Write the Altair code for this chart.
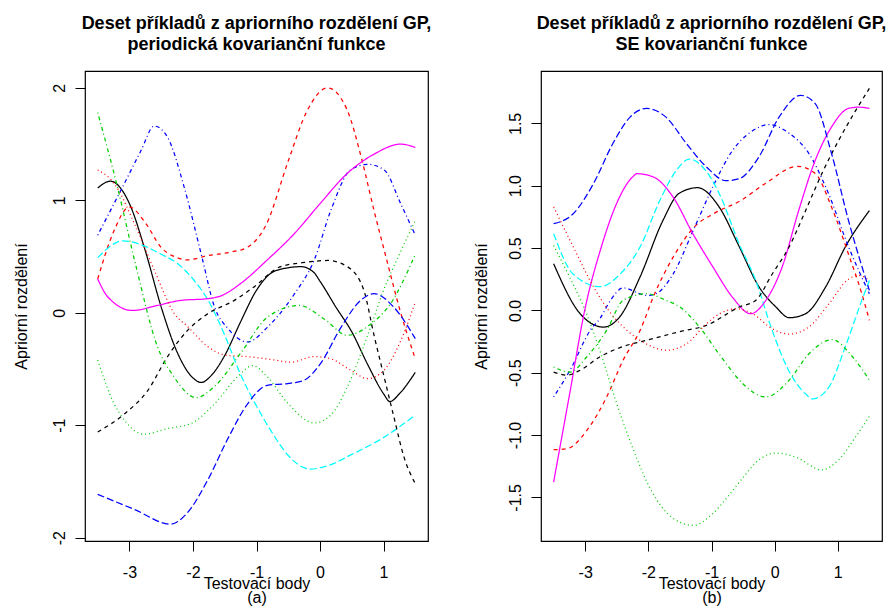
import altair as alt
import pandas as pd

# ---------------- data: left panel (periodic covariance) ----------------
p1_x = [-3.5, -3.3, -3.0, -2.75, -2.5, -2.25, -2.0, -1.87, -1.7, -1.5, -1.25, -1.0, -0.75, -0.5, -0.3, -0.1, 0.0, 0.25, 0.5, 0.75, 1.0, 1.1, 1.25, 1.5]
p1_y = [1.11, 1.17, 0.97, 0.55, 0.05, -0.35, -0.58, -0.62, -0.55, -0.38, -0.08, 0.2, 0.36, 0.40, 0.41, 0.36, 0.28, 0.05, -0.17, -0.46, -0.72, -0.79, -0.72, -0.53]
p2_x = [-3.5, -3.25, -3.0, -2.75, -2.5, -2.25, -2.1, -1.75, -1.4, -1.15, -0.85, -0.5, -0.2, 0.12, 0.43, 0.65, 0.85, 1.05, 1.27, 1.5]
p2_y = [0.3, 0.72, 0.94, 0.8, 0.58, 0.49, 0.47, 0.51, 0.54, 0.58, 0.78, 1.35, 1.8, 2.0, 1.8, 1.38, 0.91, 0.47, 0.0, -0.41]
p3_x = [-3.5, -3.25, -3.08, -2.77, -2.4, -2.03, -1.66, -1.3, -1.06, -0.83, -0.5, -0.09, 0.17, 0.43, 0.75, 1.0, 1.25, 1.5]
p3_y = [-0.42, -0.8, -0.955, -1.08, -1.03, -0.985, -0.81, -0.57, -0.47, -0.57, -0.81, -0.98, -0.91, -0.66, -0.2, 0.2, 0.52, 0.82]
p4_x = [-3.5, -3.08, -2.82, -2.61, -2.4, -2.14, -1.87, -1.66, -1.45, -1.14, -0.83, -0.55, -0.4, -0.09, 0.17, 0.48, 0.75, 1.01, 1.27, 1.5]
p4_y = [0.69, 1.15, 1.44, 1.66, 1.56, 1.12, 0.52, 0.05, -0.14, -0.26, -0.13, 0.05, 0.17, 0.47, 0.91, 1.27, 1.32, 1.27, 0.97, 0.69]
p5_x = [-3.5, -3.1, -2.75, -2.5, -2.25, -2.0, -1.75, -1.5, -1.25, -1.0, -0.75, -0.5, -0.15, 0.15, 0.5, 1.0, 1.5]
p5_y = [0.49, 0.64, 0.59, 0.52, 0.44, 0.3, 0.1, -0.2, -0.55, -0.83, -1.07, -1.27, -1.39, -1.355, -1.26, -1.11, -0.91]
p6_x = [-3.5, -3.34, -2.95, -2.56, -2.19, -1.77, -1.56, -1.25, -0.83, -0.41, 0.0, 0.43, 0.85, 1.27, 1.5]
p6_y = [0.3, 0.14, 0.02, 0.065, 0.11, 0.125, 0.15, 0.26, 0.47, 0.70, 0.97, 1.24, 1.41, 1.50, 1.47]
p7_x = [-3.5, -3.08, -2.71, -2.4, -2.09, -1.77, -1.35, -1.04, -0.62, -0.2, 0.12, 0.43, 0.69, 0.85, 1.0, 1.16, 1.32, 1.5]
p7_y = [-1.06, -0.9, -0.69, -0.39, -0.16, -0.01, 0.11, 0.23, 0.41, 0.45, 0.465, 0.41, 0.2, -0.2, -0.55, -0.92, -1.28, -1.52]
p8_x = [-3.5, -3.24, -2.92, -2.61, -2.29, -2.09, -1.77, -1.46, -1.14, -0.72, -0.46, -0.09, 0.17, 0.48, 0.75, 1.01, 1.27, 1.5]
p8_y = [1.27, 1.15, 0.79, 0.38, -0.01, -0.12, -0.3, -0.38, -0.39, -0.42, -0.44, -0.39, -0.41, -0.51, -0.586, -0.51, -0.25, 0.095]
p9_x = [-3.5, -3.19, -2.9, -2.56, -2.3, -1.95, -1.67, -1.25, -0.83, -0.33, 0.06, 0.43, 0.8, 1.11, 1.5]
p9_y = [1.78, 1.12, 0.42, -0.3, -0.57, -0.755, -0.66, -0.36, -0.04, 0.065, -0.053, -0.2, -0.1, 0.08, 0.52]
p10_x = [-3.5, -2.92, -2.35, -2.09, -1.77, -1.46, -1.14, -0.83, -0.51, -0.25, 0.01, 0.33, 0.64, 0.85, 1.16, 1.5]
p10_y = [-1.615, -1.75, -1.88, -1.78, -1.49, -1.13, -0.81, -0.645, -0.63, -0.6, -0.45, -0.13, 0.11, 0.17, 0.05, -0.23]

# ---------------- data: right panel (SE covariance) ----------------
s1_x = [-3.5, -3.08, -2.71, -2.45, -2.13, -1.77, -1.51, -1.22, -0.88, -0.56, -0.25, 0.02, 0.23, 0.49, 0.81, 1.12, 1.5]
s1_y = [0.374, -0.027, -0.134, -0.05, 0.27, 0.72, 0.94, 0.984, 0.83, 0.51, 0.19, 0.027, -0.059, -0.027, 0.19, 0.51, 0.80]
s2_x = [-3.5, -3.29, -2.97, -2.66, -2.4, -2.13, -1.9, -1.58, -1.27, -0.95, -0.54, -0.14, 0.36, 0.64, 0.9, 1.17, 1.38, 1.5]
s2_y = [-1.118, -1.11, -0.96, -0.695, -0.40, -0.16, 0.134, 0.45, 0.67, 0.78, 0.88, 1.02, 1.155, 1.1, 0.83, 0.45, 0.134, -0.08]
s3_x = [-3.5, -3.25, -3.0, -2.75, -2.5, -2.25, -2.0, -1.75, -1.5, -1.29, -1.0, -0.75, -0.5, -0.25, 0.02, 0.33, 0.75, 1.01, 1.28, 1.5]
s3_y = [0.52, 0.27, 0.0, -0.35, -0.75, -1.1, -1.4, -1.6, -1.70, -1.725, -1.64, -1.5, -1.34, -1.2, -1.144, -1.176, -1.28, -1.2, -1.016, -0.85]
s4_x = [-3.5, -3.24, -2.92, -2.76, -2.6, -2.4, -2.03, -1.88, -1.61, -1.29, -0.98, -0.67, -0.35, -0.09, 0.23, 0.54, 0.85, 1.17, 1.5]
s4_y = [-0.695, -0.48, -0.16, -0.06, 0.08, 0.18, 0.12, 0.134, 0.29, 0.64, 0.99, 1.28, 1.44, 1.49, 1.42, 1.26, 0.94, 0.51, 0.134]
s5_x = [-3.5, -3.19, -2.76, -2.45, -2.13, -1.82, -1.56, -1.35, -1.09, -0.88, -0.56, -0.3, -0.04, 0.22, 0.49, 0.6, 0.86, 1.12, 1.38, 1.5]
s5_y = [0.615, 0.29, 0.19, 0.29, 0.51, 0.88, 1.12, 1.214, 1.12, 0.94, 0.53, 0.24, -0.16, -0.48, -0.67, -0.71, -0.615, -0.29, 0.08, 0.24]
s6_x = [-3.5, -3.25, -3.0, -2.75, -2.5, -2.25, -2.18, -1.92, -1.61, -1.29, -0.98, -0.67, -0.38, -0.14, 0.12, 0.38, 0.64, 0.9, 1.17, 1.33, 1.5]
s6_y = [-1.377, -0.68, 0.02, 0.5, 0.86, 1.07, 1.096, 1.07, 0.91, 0.61, 0.35, 0.107, -0.027, 0.08, 0.35, 0.80, 1.2, 1.47, 1.62, 1.63, 1.62]
s7_x = [-3.5, -3.29, -3.08, -2.76, -2.4, -2.03, -1.5, -1.08, -0.56, -0.3, -0.04, 0.23, 0.49, 0.75, 1.01, 1.28, 1.5]
s7_y = [-0.495, -0.52, -0.48, -0.37, -0.29, -0.24, -0.17, -0.12, 0.027, 0.08, 0.29, 0.51, 0.8, 1.1, 1.36, 1.6, 1.78]
s8_x = [-3.5, -3.19, -2.87, -2.6, -2.34, -2.03, -1.72, -1.4, -1.08, -0.87, -0.61, -0.35, -0.04, 0.23, 0.54, 0.86, 1.17, 1.33, 1.5]
s8_y = [0.83, 0.51, 0.19, -0.02, -0.16, -0.27, -0.32, -0.27, -0.107, -0.027, 0.013, -0.027, -0.147, -0.19, -0.134, 0.053, 0.25, 0.28, 0.24]
s9_x = [-3.5, -3.24, -2.97, -2.66, -2.4, -2.03, -1.72, -1.5, -1.19, -0.88, -0.5, -0.14, 0.23, 0.54, 0.91, 1.23, 1.5]
s9_y = [-0.455, -0.495, -0.37, -0.16, 0.08, 0.134, 0.08, 0.027, -0.134, -0.35, -0.59, -0.695, -0.56, -0.35, -0.235, -0.37, -0.56]
s10_x = [-3.5, -3.19, -2.87, -2.56, -2.29, -2.03, -1.72, -1.4, -1.08, -0.77, -0.56, -0.25, 0.07, 0.41, 0.64, 0.9, 1.17, 1.5]
s10_y = [0.695, 0.775, 1.016, 1.34, 1.55, 1.62, 1.55, 1.34, 1.15, 1.04, 1.056, 1.23, 1.55, 1.725, 1.66, 1.26, 0.72, 0.16]

# R matplot default cycling: col 1:6, lty 1:5
curve_colors = ["black", "red", "green", "blue", "cyan", "magenta", "black", "red", "green", "blue"]
curve_ltys = ["solid", "dashed", "dotted", "dotdash", "longdash", "solid", "dashed", "dotted", "dotdash", "longdash"]

color_names = ["black", "red", "green", "blue", "cyan", "magenta"]
color_hex = ["#000000", "#FF0000", "#00CD00", "#0000FF", "#00FFFF", "#FF00FF"]
lty_names = ["solid", "dashed", "dotted", "dotdash", "longdash"]
lty_dash = [[1, 0], [4, 4], [1, 3], [1, 3, 4, 3], [7, 3]]

x_ticks = [-3, -2, -1, 0, 1]
y_ticks_left = [-2, -1, 0, 1, 2]
y_ticks_right = [-1.5, -1.0, -0.5, 0.0, 0.5, 1.0, 1.5]

title_left = ["Deset příkladů z apriorního rozdělení GP,", "periodická kovarianční funkce"]
title_right = ["Deset příkladů z apriorního rozdělení GP,", "SE kovarianční funkce"]
x_title = "Testovací body"
y_title = "Apriorní rozdělení"

left_curves = [(p1_x, p1_y), (p2_x, p2_y), (p3_x, p3_y), (p4_x, p4_y), (p5_x, p5_y),
               (p6_x, p6_y), (p7_x, p7_y), (p8_x, p8_y), (p9_x, p9_y), (p10_x, p10_y)]
right_curves = [(s1_x, s1_y), (s2_x, s2_y), (s3_x, s3_y), (s4_x, s4_y), (s5_x, s5_y),
                (s6_x, s6_y), (s7_x, s7_y), (s8_x, s8_y), (s9_x, s9_y), (s10_x, s10_y)]


def build_df(curves):
    rows = []
    for i, (xs, ys) in enumerate(curves):
        for j, (xv, yv) in enumerate(zip(xs, ys)):
            rows.append({"curve": i, "idx": j, "x": xv, "y": yv,
                         "col": curve_colors[i], "lty": curve_ltys[i]})
    return pd.DataFrame(rows)


FONT = "Liberation Sans"
MINUS_FIX = "replace(datum.label, '\u2212', '-')"


def panel(df, ydomain, yticks, yfmt, title, sub, width, title_x):
    x_axis = alt.Axis(values=x_ticks, format="d", labelExpr=MINUS_FIX,
                      tickSize=10, domain=False, grid=False,
                      labelFontSize=16, labelFont=FONT, labelColor="black",
                      labelBaseline="alphabetic", labelPadding=26,
                      labelFlush=False, labelOverlap=False,
                      tickColor="black", tickWidth=1,
                      title=[x_title, sub], titleFont=FONT, titleFontSize=16,
                      titleFontWeight="normal", titleColor="black",
                      titleBaseline="alphabetic", titleY=47.5, titleLineHeight=13.5)
    y_axis = alt.Axis(values=yticks, format=yfmt, labelExpr=MINUS_FIX,
                      tickSize=10, domain=False, grid=False,
                      labelFontSize=16, labelFont=FONT, labelColor="black",
                      labelAngle=-90, labelAlign="center", labelBaseline="alphabetic",
                      labelPadding=11, labelFlush=False, labelOverlap=False,
                      tickColor="black", tickWidth=1,
                      title=y_title, titleFont=FONT, titleFontSize=16,
                      titleFontWeight="normal", titleColor="black",
                      titleAngle=-90, titleBaseline="alphabetic", titleX=title_x)
    lines = alt.Chart(df).mark_line(strokeWidth=1.25, interpolate="monotone").encode(
        x=alt.X("x:Q", scale=alt.Scale(domain=[-3.7, 1.7], nice=False, zero=False), axis=x_axis),
        y=alt.Y("y:Q", scale=alt.Scale(domain=ydomain, nice=False, zero=False), axis=y_axis),
        color=alt.Color("col:N", scale=alt.Scale(domain=color_names, range=color_hex), legend=None),
        strokeDash=alt.StrokeDash("lty:N", scale=alt.Scale(domain=lty_names, range=lty_dash), legend=None),
        detail="curve:N",
        order="idx:Q",
    )
    return lines.properties(
        width=width, height=470,
        title=alt.TitleParams(title, font=FONT, fontSize=18, fontWeight="bold", color="black",
                              lineHeight=21, baseline="bottom", offset=-1, anchor="middle",
                              frame="group"),
    )


left = panel(build_df(left_curves), [-2.03, 2.15], y_ticks_left, "d", title_left, "(a)", 343, -59)
right = panel(build_df(right_curves), [-1.85, 1.92], y_ticks_right, ".1f", title_right, "(b)", 341, -55)

chart = alt.HConcatChart(hconcat=[left, right], spacing=113, bounds="flush").properties(
    autosize=alt.AutoSizeParams(type="pad"),
    padding={"left": 12, "top": 14, "right": 0, "bottom": 0},
    background="white",
).configure_view(stroke="black", strokeWidth=1.2)

chart.save("out.html", embed_options={"renderer": "svg", "actions": False})
